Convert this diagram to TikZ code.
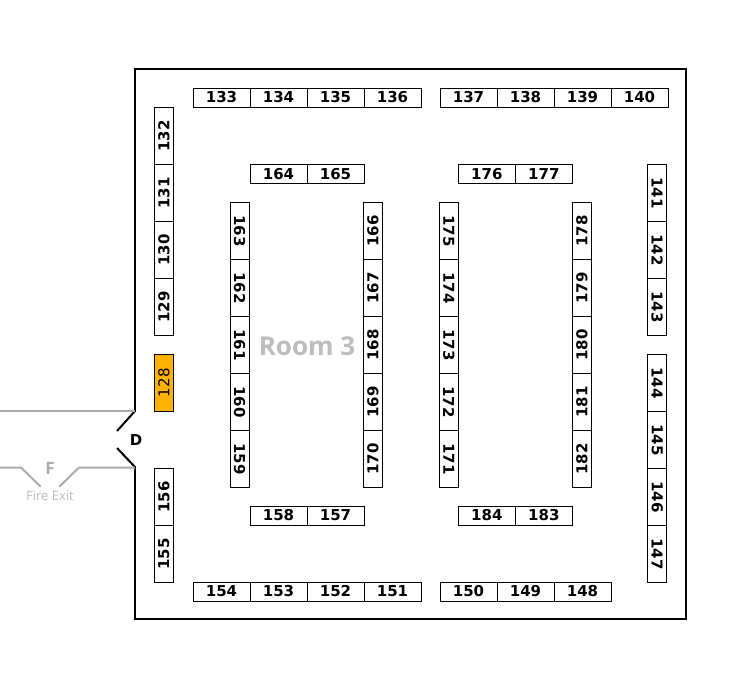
\documentclass[tikz,border=0pt]{standalone}
\usepackage{fontspec}
\setmainfont{DejaVu Sans}
\newfontfamily\roomfont{Open Sans}
\definecolor{hilite}{HTML}{FFB300}
\definecolor{wallgray}{HTML}{AAAAAA}
\definecolor{labelgray}{HTML}{BDBDBD}
\tikzset{
  booth/.style={draw, line width=0.8pt, inner sep=0pt, minimum width=57pt,
    minimum height=19pt, font=\fontsize{15}{15}\selectfont\bfseries},
  up/.style={booth, rotate=90},
  down/.style={booth, rotate=-90},
  wall/.style={line width=2pt, line cap=rect}
}
\begin{document}
\begin{tikzpicture}[x=1pt, y=-1pt]
      \useasboundingbox (0,0) rectangle (755,689);
      % room outline with the door gap on the left
      \draw[wall] (135,411) -- (135,69) -- (686,69) -- (686,619) -- (135,619) -- (135,467);
      \draw[wall, line cap=butt] (135,411) -- (117,431);
      \draw[wall, line cap=butt] (117,448) -- (135,467);
      \node[font=\fontsize{15}{15}\selectfont\bfseries] (door) at (136,440) {D};
      % fire exit
      \begin{scope}[wallgray, line width=2pt]
        \draw (0,411) -- (135,411);
        \draw (0,467.5) -- (21,467.5) -- (40.7,486.7);
        \draw (59.3,486.7) -- (79,467.5) -- (135,467.5);
      \end{scope}
      \node[text=wallgray, font=\roomfont\fontsize{17}{17}\selectfont\bfseries] (exitF) at (50,468) {F};
      \node[text=labelgray, font=\roomfont\fontsize{13}{13}\selectfont] (exit) at (50,496) {Fire Exit};
      \node[text=labelgray, font=\roomfont\fontsize{26}{26}\selectfont\bfseries] (room) at (307,346) {Room 3};
      % horizontal rows
      \draw
        (221.5,97.5) node[booth] (133){133}
        (278.5,97.5) node[booth] (134){134}
        (335.5,97.5) node[booth] (135){135}
        (392.5,97.5) node[booth] (136){136}
        (468.5,97.5) node[booth] (137){137}
        (525.5,97.5) node[booth] (138){138}
        (582.5,97.5) node[booth] (139){139}
        (639.5,97.5) node[booth] (140){140}
        (278.5,173.8) node[booth] (164){164}
        (335.5,173.8) node[booth] (165){165}
        (486.8,173.8) node[booth] (176){176}
        (543.8,173.8) node[booth] (177){177}
        (278.5,515.5) node[booth] (158){158}
        (335.5,515.5) node[booth] (157){157}
        (486.8,515.5) node[booth] (184){184}
        (543.8,515.5) node[booth] (183){183}
        (221.5,591.5) node[booth] (154){154}
        (278.5,591.5) node[booth] (153){153}
        (335.5,591.5) node[booth] (152){152}
        (392.5,591.5) node[booth] (151){151}
        (468.5,591.5) node[booth] (150){150}
        (525.5,591.5) node[booth] (149){149}
        (582.5,591.5) node[booth] (148){148};
      % columns read upwards
      \draw
        (163.8,135.8) node[up] (132){132}
        (163.8,192.8) node[up] (131){131}
        (163.8,249.8) node[up] (130){130}
        (163.8,306.8) node[up] (129){129}
        (163.8,382.7) node[up, fill=hilite, font=\fontsize{15}{15}\selectfont] (128){128}
        (163.8,496.8) node[up] (156){156}
        (163.8,553.8) node[up] (155){155}
        (372.8,230.8) node[up] (166){166}
        (372.8,287.8) node[up] (167){167}
        (372.8,344.8) node[up] (168){168}
        (372.8,401.8) node[up] (169){169}
        (372.8,458.8) node[up] (170){170}
        (581.8,230.8) node[up] (178){178}
        (581.8,287.8) node[up] (179){179}
        (581.8,344.8) node[up] (180){180}
        (581.8,401.8) node[up] (181){181}
        (581.8,458.8) node[up] (182){182};
      % columns read downwards
      \draw
        (239.7,230.8) node[down] (163){163}
        (239.7,287.8) node[down] (162){162}
        (239.7,344.8) node[down] (161){161}
        (239.7,401.8) node[down] (160){160}
        (239.7,458.8) node[down] (159){159}
        (448.8,230.8) node[down] (175){175}
        (448.8,287.8) node[down] (174){174}
        (448.8,344.8) node[down] (173){173}
        (448.8,401.8) node[down] (172){172}
        (448.8,458.8) node[down] (171){171}
        (657.2,192.8) node[down] (141){141}
        (657.2,249.8) node[down] (142){142}
        (657.2,306.8) node[down] (143){143}
        (657.2,382.8) node[down] (144){144}
        (657.2,439.8) node[down] (145){145}
        (657.2,496.8) node[down] (146){146}
        (657.2,553.8) node[down] (147){147};
    \end{tikzpicture}
\end{document}
